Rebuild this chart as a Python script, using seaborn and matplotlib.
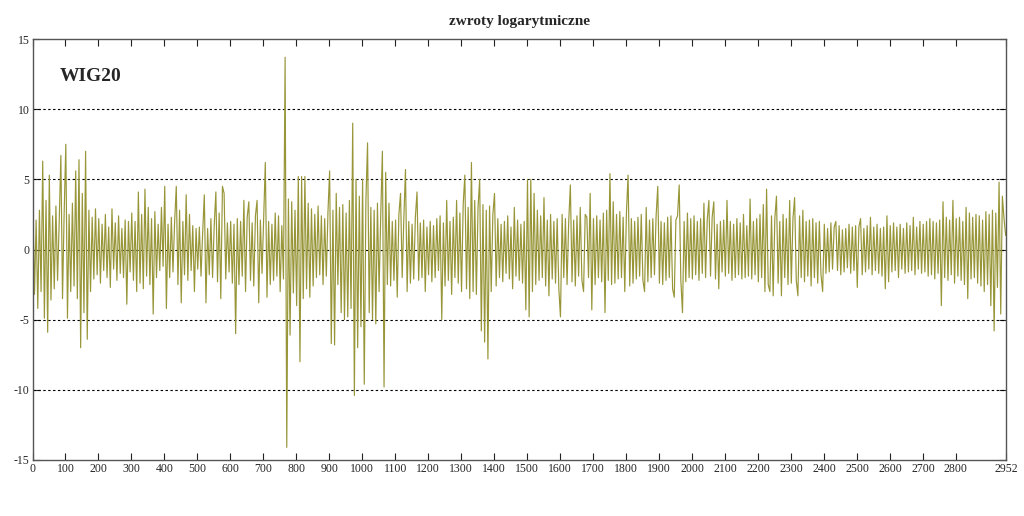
import numpy as np
import pandas as pd
import matplotlib
matplotlib.use("Agg")
import matplotlib.pyplot as plt
import seaborn as sns

seg0000 = [3.4, -3.2, 2.1, -4.2, 2.8, -3.0, 6.3, -4.9, 3.5, -5.9, 5.3, -3.6, 2.4, -2.8, 3.1, -2.2, 2.0, 6.7, -3.5, 2.6]
seg0100 = [7.5, -4.9, 2.5, -3.0, 3.3, -2.6, 5.6, -3.5, 6.4, -7.0, 4.0, -4.5, 7.0, -6.4, 2.8, -3.0, 2.3, -2.1, 2.9, -1.8]
seg0200 = [2.2, -2.4, 1.8, -1.5, 2.5, -2.0, 1.6, -2.7, 2.9, -1.4, 1.9, -2.2, 2.4, -1.7, 1.5, -2.0, 2.1, -3.9, 2.0, -1.6]
seg0300 = [2.6, -2.2, 2.0, -3.0, 4.1, -2.4, 2.5, -2.8, 4.3, -1.9, 3.0, -2.5, 2.2, -4.6, 2.7, -2.0, 1.8, -1.5, 3.0, -1.2]
seg0400 = [4.5, -4.2, 1.8, -2.0, 2.3, -1.6, 2.0, 4.5, -2.5, 2.8, -3.8, 2.0, -1.8, 3.9, -2.2, 2.5, -1.5, 1.7, -3.0, 1.5]
seg0500 = [-1.4, 1.6, -1.9, 1.2, 3.9, -3.8, 1.5, -1.8, 2.2, -2.0, 1.7, 4.1, -2.3, 2.6, -3.5, 4.5, 4.0, -2.1, 1.9, -1.6]
seg0600 = [2.0, -2.4, 1.8, -6.0, 2.2, -2.5, 2.0, -1.9, 3.5, -3.0, 2.3, 3.4, -2.2, 1.9, -2.6, 2.4, 3.5, -3.8, 2.1, -1.7]
seg0700 = [2.3, 6.2, -3.4, 2.0, -2.5, 1.8, -2.2, 2.6, -1.9, 2.4, -3.0, 1.7, -2.1, 13.7, -14.1, 3.6, -6.1, 3.4, -3.1, 2.8]
seg0800 = [-4.0, 5.2, -8.0, 5.2, -3.5, 5.2, -2.8, 3.3, -3.4, 2.9, -2.6, 2.5, -2.0, 3.1, -1.8, 2.4, -2.5, 2.2, -1.9, 2.7]
seg0900 = [5.6, -6.7, 2.8, -6.8, 4.0, -2.5, 3.0, -4.5, 3.2, -5.0, 2.6, -4.8, 3.5, -4.2, 9.0, -10.4, 5.0, -7.0, 3.8, -5.5]
seg1000 = [5.0, -9.6, 3.5, 7.6, -4.5, 3.0, -5.0, 2.8, -5.3, 3.3, -3.0, 2.5, 7.0, -9.8, 5.5, -2.5, 3.3, -2.6, 2.0, -2.2]
seg1100 = [2.1, -3.4, 2.5, 4.0, -2.0, 2.2, 5.7, -3.0, 2.0, -2.4, 1.8, -2.1, 2.3, 4.1, -2.2, 1.9, -2.0, 2.1, -3.0, 1.6]
seg1200 = [-1.8, 2.0, -2.3, 1.7, -2.0, 2.2, -1.5, 2.4, -5.0, 1.9, -2.6, 3.5, -2.2, 2.0, -3.2, 2.3, -2.0, 3.5, -2.4, 2.6]
seg1300 = [-3.0, 3.2, 5.3, -2.8, 3.0, -3.5, 6.2, -3.0, 3.5, -3.2, 3.0, 5.0, -5.8, 3.2, -6.6, 2.8, -7.8, 3.1, -3.0, 2.5]
seg1400 = [4.0, -2.6, 2.2, -2.0, 1.8, -2.3, 2.0, -1.7, 2.4, -2.1, 1.6, -2.8, 3.0, -1.9, 2.1, -2.2, 1.8, -2.4, 2.0, -4.3]
seg1500 = [5.0, -4.8, 5.0, -3.0, 4.0, -2.5, 2.8, -2.2, 2.4, -2.0, 3.7, -2.6, 2.1, -3.3, 2.5, -2.1, 2.0, -2.4, 2.2, -2.8]
seg1600 = [-4.8, 2.5, -2.0, 2.2, -2.5, 2.0, 4.6, -2.3, 2.1, -2.6, 2.4, -1.9, 3.0, -2.2, -3.0, 2.5, 2.3, -2.0, 4.0, -4.3]
seg1700 = [2.2, -2.5, 2.4, -2.0, 2.1, -2.3, 2.6, -4.5, 2.8, -2.2, 5.4, -2.5, 3.4, -2.4, 2.5, -2.1, 2.7, -2.0, 2.3, -3.0]
seg1800 = [2.6, 5.3, -2.6, 2.2, -2.4, 2.0, -2.1, 2.3, -1.9, 2.5, -2.2, -3.0, 3.0, -2.3, 2.1, -2.0, 2.2, -1.8, 2.4, 4.5]
seg1900 = [-2.4, 2.0, -2.5, 1.9, -2.2, 2.3, -2.0, 2.4, -2.8, -3.4, 2.1, 2.4, 4.6, -2.2, -4.5, 2.0, -2.3, 2.6, -2.0, 2.2]
seg2000 = [-2.1, 2.4, -1.8, 2.0, -2.2, 2.2, -1.7, 3.3, -2.0, 2.1, 3.5, -1.9, 2.3, 3.4, -2.1, 1.8, -2.8, 2.0, -1.6, 2.1]
seg2100 = [-1.9, 3.5, -1.7, 2.0, -2.2, 1.8, -2.0, 2.2, -1.8, 1.9, -2.1, 2.5, -2.0, 1.7, -1.9, 3.6, -2.1, 2.0, -1.8, 2.2]
seg2200 = [-2.3, 2.5, -2.0, 3.2, -3.0, 4.3, -2.5, -3.0, 2.4, -3.3, 2.2, 3.8, -2.4, 2.0, -3.3, 2.5, -2.0, 2.2, -2.5, 3.5]
seg2300 = [-2.4, 2.2, 3.7, -2.2, -3.3, 2.4, -2.0, 2.8, -2.3, 2.0, -1.9, 2.1, -2.6, 2.2, -2.0, 1.9, -2.4, 2.0, -1.8, -3.0]
seg2400 = [1.8, -1.7, 1.5, -1.6, 1.9, -1.4, 1.6, 2.0, -1.5, 1.7, -1.8, 1.4, -1.6, 1.5, -1.3, 1.8, -1.7, 1.6, -1.5, 1.7]
seg2500 = [-2.7, 1.6, 2.2, -1.8, 1.5, -1.6, 1.7, -1.4, 2.3, -1.8, 1.6, -1.5, 1.8, -1.7, 1.5, -1.9, 1.6, -2.8, 2.4, -2.3]
seg2600 = [1.7, -1.6, 1.9, -1.5, 1.6, -2.0, 1.8, -1.4, 1.5, -1.7, 1.9, -1.6, 1.7, -1.5, 2.3, -1.8, 1.6, -1.4, 2.0, -1.7]
seg2700 = [1.8, -1.6, 2.0, -1.9, 2.2, -1.8, 2.0, -2.1, 1.9, -1.7, 2.1, -4.0, 3.4, -2.0, 2.3, -2.2, 2.1, -1.8, 3.5, -2.4]
seg2800 = [2.2, -1.9, 2.3, -2.2, 2.0, -2.5, 3.0, -3.5, 2.6, -2.1, 2.3, -2.0, 2.5, -2.4, 2.4, -2.6, 2.1, -3.0, 2.7, -2.5]
seg2900 = [2.5, -4.0, 2.8, -5.8, 2.6, -2.7, 4.8, -4.6, 3.8, 2.2, 1.0]

segments = [seg0000, seg0100, seg0200, seg0300, seg0400, seg0500, seg0600, seg0700,
            seg0800, seg0900, seg1000, seg1100, seg1200, seg1300, seg1400, seg1500,
            seg1600, seg1700, seg1800, seg1900, seg2000, seg2100, seg2200, seg2300,
            seg2400, seg2500, seg2600, seg2700, seg2800, seg2900]
step_days = 5
n_days = 2952

x_ticks = list(range(0, 2900, 100)) + [2952]
y_ticks = [-15, -10, -5, 0, 5, 10, 15]
title = "zwroty logarytmiczne"
label = "WIG20"

values = np.concatenate([np.asarray(s, dtype=float) for s in segments])
days = np.arange(len(values)) * step_days + 1
df = pd.DataFrame({"day": days, "r": values})

sns.set_style("white")
plt.rcParams["font.family"] = ["Liberation Serif", "DejaVu Serif"]

fig = plt.figure(figsize=(10.24, 5.16), dpi=100)
ax = fig.add_axes([32.5 / 1024, 1 - 460 / 516, (1006 - 32.5) / 1024, (460 - 39) / 516])

for yv in y_ticks[1:-1]:
    ax.axhline(yv, color="black", linestyle=(0, (2.2, 2.2)), linewidth=0.8, zorder=1)

sns.lineplot(data=df, x="day", y="r", ax=ax, color="#989638", linewidth=0.85,
             estimator=None, sort=False, zorder=2)

ax.set_xlim(0, n_days)
ax.set_ylim(-15, 15)
ax.set_xticks(x_ticks)
ax.set_yticks(y_ticks)
ax.set_xticklabels([str(t) for t in x_ticks], fontsize=8.5)
ax.set_yticklabels([str(t) for t in y_ticks], fontsize=8.5)
ax.tick_params(direction="in", length=5, width=0.8, color="#222222",
               top=True, right=True, bottom=True, left=True, pad=2)
ax.set_xlabel("")
ax.set_ylabel("")
for sp in ax.spines.values():
    sp.set_color("#555555")
    sp.set_linewidth(1.0)

ax.set_title(title, fontsize=11, fontweight="bold", pad=10)
ax.text(0.028, 0.912, label, transform=ax.transAxes, fontsize=14, fontweight="bold",
        ha="left", va="center")

fig.savefig("out.png", dpi=100, facecolor="white")
